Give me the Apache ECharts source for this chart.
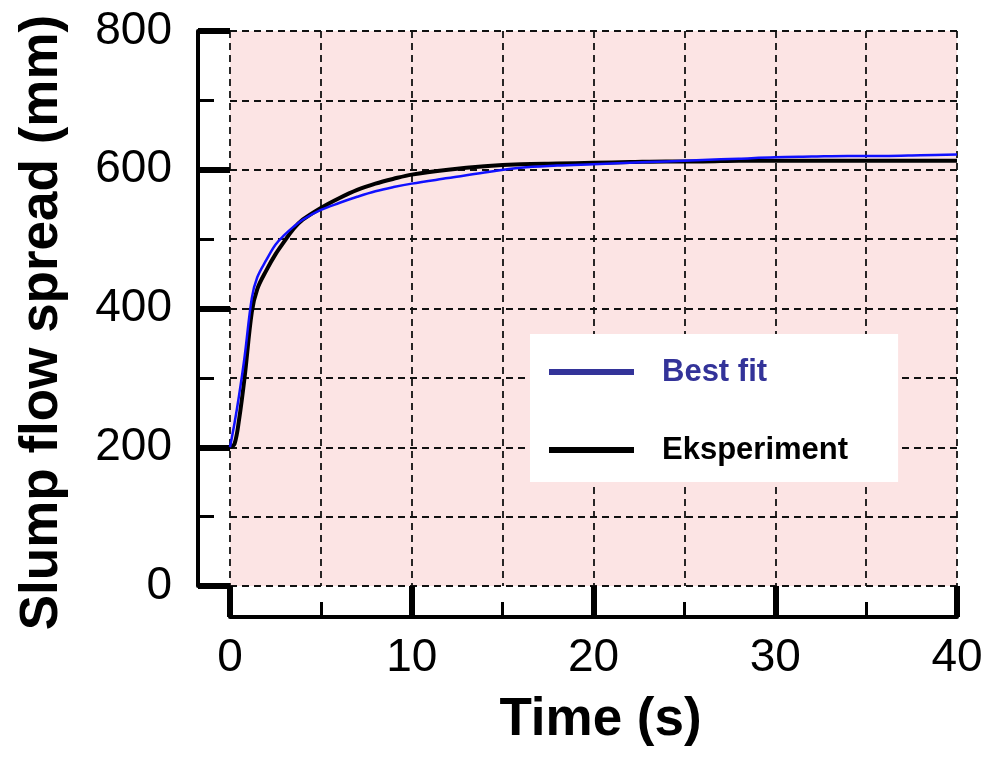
<!DOCTYPE html>
<html>
<head>
<meta charset="utf-8">
<script src="https://cdn.jsdelivr.net/npm/echarts@6/dist/echarts.min.js"></script>
<style>
  html, body { margin: 0; padding: 0; background: #fff; }
  #chart { width: 987px; height: 757px; }
</style>
</head>
<body>
<div id="chart"></div>
<script>
// Time axis (s)
const timeValues = [0, 0.25, 0.5, 0.8, 1.2, 1.5, 2, 2.5, 3, 3.5, 4, 5, 6, 7, 8, 9, 10, 12, 14, 16, 18, 20, 22, 24, 26, 28, 30, 32, 34, 36, 38, 40];
// Measured spread (mm)
const eksperimentValues = [200, 205, 240, 300, 395, 428, 455, 478, 497, 515, 528, 545, 559, 571, 580, 587, 593, 600, 605, 608, 609, 610, 611, 612, 612, 613, 613, 613, 613, 613, 613, 613];
// Fitted spread (mm)
const bestFitValues = [200, 235, 275, 330, 415, 445, 470, 492, 506, 518, 528, 542, 552, 561, 569, 575, 580, 588, 596, 603, 606, 608, 610, 612, 614, 616, 618, 619, 620, 620, 621, 622];

const xTicks = [0, 10, 20, 30, 40];
const yTicks = [0, 200, 400, 600, 800];

const FONT = 'Liberation Sans, Arial, Helvetica, sans-serif';

const chart = echarts.init(document.getElementById('chart'));

const toPairs = (xs, ys) => xs.map((x, i) => [x, ys[i]]);

// dashed grid, same for major and minor lines
const gridLine = { show: true, lineStyle: { color: '#111', width: 1.8, type: [7, 5] } };

const option = {
    animation: false,
    backgroundColor: '#fff',
    grid: {
        left: 230, right: 30, top: 31, bottom: 171,
        show: true,
        backgroundColor: '#fce4e4',
        borderWidth: 0
    },
    legend: {
        orient: 'vertical',
        left: 530,
        top: 334,
        padding: [22, 50, 16, 19],
        backgroundColor: '#fff',
        itemWidth: 85,
        itemHeight: 6,
        itemGap: 46,
        icon: 'rect',
        textStyle: { fontFamily: FONT, fontWeight: 'bold', fontSize: 31, lineHeight: 32, padding: [0, 0, 0, 23] },
        data: [
            { name: 'Best fit', itemStyle: { color: '#333399' }, textStyle: { color: '#333399' } },
            { name: 'Eksperiment', itemStyle: { color: '#000' }, textStyle: { color: '#000' } }
        ]
    },
    xAxis: {
        type: 'value',
        min: 0, max: 40, interval: 10,
        offset: 31,
        name: 'Time (s)',
        nameLocation: 'middle',
        nameGap: 77,
        nameTextStyle: { fontFamily: FONT, fontWeight: 'bold', fontSize: 53, color: '#000', padding: [0, 0, 0, 14] },
        axisLine: { show: true, onZero: false, lineStyle: { color: '#000', width: 4 } },
        axisTick: { show: true, inside: true, length: 31, lineStyle: { color: '#000', width: 6 } },
        minorTick: { show: true, splitNumber: 2, length: 15, lineStyle: { color: '#000', width: 3 } },
        axisLabel: {
            fontFamily: FONT, fontSize: 46, color: '#000', margin: 18,
            formatter: v => xTicks.includes(v) ? String(v) : ''
        },
        splitLine: gridLine,
        minorSplitLine: gridLine
    },
    yAxis: {
        type: 'value',
        min: 0, max: 800, interval: 200,
        offset: 32,
        name: 'Slump flow spread (mm)',
        nameLocation: 'middle',
        nameGap: 129,
        nameTextStyle: { fontFamily: FONT, fontWeight: 'bold', fontSize: 53, color: '#000', padding: [0, 0, 0, -28] },
        axisLine: { show: true, onZero: false, lineStyle: { color: '#000', width: 4 } },
        axisTick: { show: true, inside: true, length: 32, lineStyle: { color: '#000', width: 6 } },
        minorTick: { show: true, splitNumber: 2, length: 16, lineStyle: { color: '#000', width: 3 } },
        axisLabel: {
            fontFamily: FONT, fontSize: 46, color: '#000', margin: 26,
            formatter: v => yTicks.includes(v) ? String(v) : ''
        },
        splitLine: gridLine,
        minorSplitLine: gridLine
    },
    series: [
        {
            name: 'Eksperiment',
            type: 'line',
            data: toPairs(timeValues, eksperimentValues),
            showSymbol: false,
            smooth: 0.35,
            lineStyle: { color: '#000', width: 4 },
            itemStyle: { color: '#000' },
            z: 3
        },
        {
            name: 'Best fit',
            type: 'line',
            data: toPairs(timeValues, bestFitValues),
            showSymbol: false,
            smooth: 0.35,
            lineStyle: { color: '#1010ff', width: 2.5 },
            itemStyle: { color: '#333399' },
            z: 4
        }
    ]
};

chart.setOption(option);
</script>
</body>
</html>
